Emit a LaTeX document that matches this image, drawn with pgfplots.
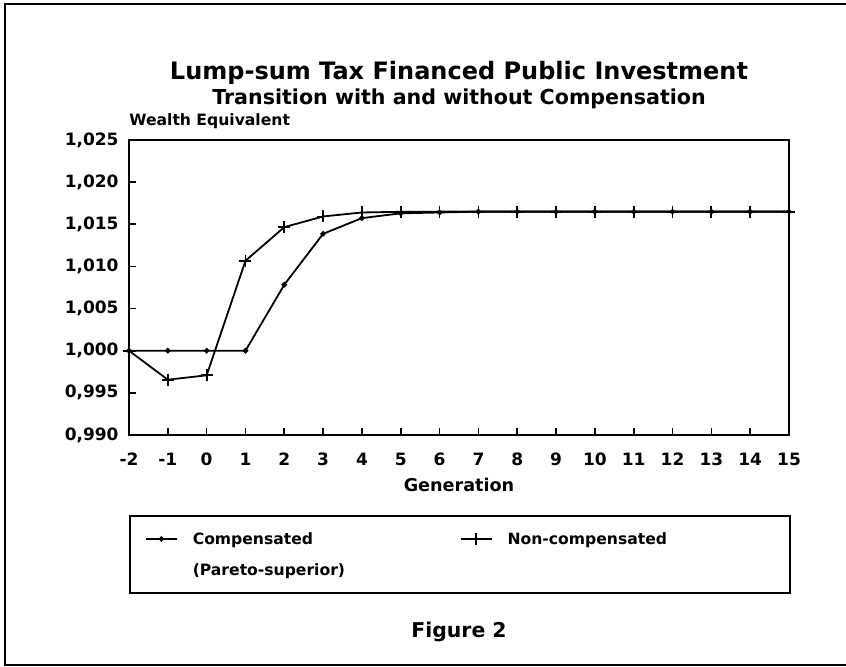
\documentclass[border=0pt]{standalone}
\usepackage{pgfplots}
\pgfplotsset{compat=1.18}
\usepackage{fontspec}
\setmainfont{DejaVu Sans}
\begin{document}
\begin{tikzpicture}
\useasboundingbox (0,0) rectangle (423pt,333.5pt);
\begin{scope}[x=0.5pt,y=-0.5pt,shift={(0pt,333.5pt)}]
\draw[line width=1pt] (850,4) -- (5,4) -- (5,665) -- (850,665);
\node[font=\fontsize{12}{14}\selectfont\bfseries] at (459,73) {Lump-sum Tax Financed Public Investment};
\node[font=\fontsize{10.3}{12}\selectfont\bfseries] at (459,99) {Transition with and without Compensation};
\node[font=\fontsize{10.2}{12}\selectfont\bfseries] at (459,632) {Figure 2};
\end{scope}
\begin{axis}[
  at={(64.5pt,116pt)}, anchor=south west,
  scale only axis, width=330pt, height=147.5pt,
  xmin=-2, xmax=15, ymin=0.990, ymax=1.025,
  xtick={-2,-1,0,1,2,3,4,5,6,7,8,9,10,11,12,13,14,15},
  ytick={0.990,0.995,1.000,1.005,1.010,1.015,1.020,1.025},
  tick align=inside, tick pos=left, major tick length=3.5pt,
  axis line style={line width=1pt},
  every tick/.style={line width=0.8pt, black},
  /pgf/number format/assume math mode=true,
  scaled y ticks=false,
  yticklabel style={xshift=-1.7pt, /pgf/number format/.cd, fixed, fixed zerofill, precision=3, use comma, 1000 sep={}},
  tick label style={font=\fontsize{8.5}{10}\selectfont\bfseries},
  xticklabel style={yshift=-5.5pt},
  xlabel={Generation},
  xlabel style={font=\fontsize{8.8}{10}\selectfont\bfseries, at={(axis description cs:0.5,0)}, anchor=center, yshift=-25pt},
  ylabel={Wealth Equivalent},
  ylabel style={rotate=-90, at={(axis description cs:0,1)}, anchor=west, yshift=9.5pt, inner sep=0pt, font=\fontsize{7.8}{9}\selectfont\bfseries},
  legend columns=2,
  legend image code/.code={\draw[mark repeat=2,mark phase=2,#1] plot coordinates {(0pt,0pt) (7.75pt,0pt) (15.5pt,0pt)};},
  legend style={at={(0,-0.2712)}, anchor=north west, draw=black, line width=1pt,
    inner xsep=7.5pt, inner ysep=7.85pt, column sep=0pt,
    row sep={15.5pt,between origins},
    font=\fontsize{7.8}{9}\selectfont\bfseries, cells={anchor=west},
    nodes={inner xsep=7.5pt, inner ysep=0pt, text width=126pt, align=left, text height=6.5pt, text depth=0.8pt}},
]
\addplot[black, line width=0.9pt, mark=*, mark size=0.9pt] coordinates {
(-2,1.0000) (-1,1.0000) (0,1.0000) (1,1.0000) (2,1.00783) (3,1.01387) (4,1.01573) (5,1.0163) (6,1.0164) (7,1.0165) (8,1.0165) (9,1.0165) (10,1.0165) (11,1.0165) (12,1.0165) (13,1.0165) (14,1.0165) (15,1.0165)};
\addlegendentry{Compensated}
\addplot[black, line width=0.9pt, mark=+, mark size=3pt, mark options={line width=0.9pt}] coordinates {
(-2,1.0000) (-1,0.99656) (0,0.99708) (1,1.01067) (2,1.01466) (3,1.01593) (4,1.0164) (5,1.01648) (6,1.0165) (7,1.0165) (8,1.0165) (9,1.0165) (10,1.0165) (11,1.0165) (12,1.0165) (13,1.0165) (14,1.0165) (15,1.0165)};
\addlegendentry{Non-compensated}
\addlegendimage{empty legend}
\addlegendentry{(Pareto-superior)}
\end{axis}
\end{tikzpicture}
\end{document}
